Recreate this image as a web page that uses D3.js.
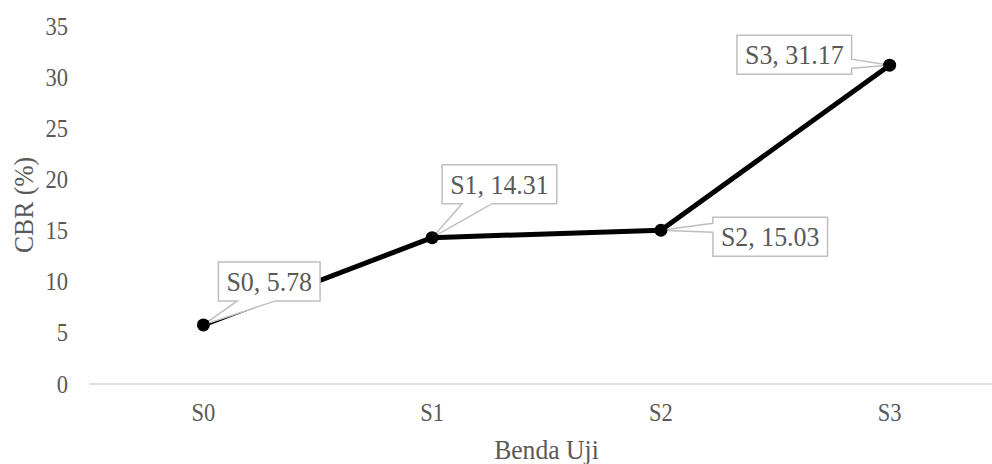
<!DOCTYPE html>
<html>
<head>
<meta charset="utf-8">
<script src="https://cdn.jsdelivr.net/npm/d3@7/dist/d3.min.js"></script>
<style>
  html, body { margin: 0; padding: 0; background: #fff; }
  svg { display: block; }
  text { font-family: "Liberation Serif", "Times New Roman", serif; fill: #595959; }
</style>
</head>
<body>
<svg id="chart" width="992" height="464"></svg>
<script>
// CBR test results per specimen
const categories = ["S0", "S1", "S2", "S3"];
const cbrValues = [5.78, 14.31, 15.03, 31.17];
const yTicks = [0, 5, 10, 15, 20, 25, 30, 35];
const xTitle = "Benda Uji";
const yTitle = "CBR (%)";

// Callout placement for each data label: box offset from the point and
// the side of the box the pointer leaves from.
const calloutLayout = [
  { dx: 15,  dy: -63, side: "bottom", wedge: [19, 57] },
  { dx: 10,  dy: -73, side: "bottom", wedge: [20, 50] },
  { dx: 52,  dy: -13, side: "left",   wedge: [6, 15] },
  { dx: -38, dy: -30, side: "right",  wedge: [24, 33] }
];

const svg = d3.select("#chart");
const W = 992, H = 464;
const margin = { left: 89, right: -12, top: 26, bottom: 80 };
const plotW = W - margin.left - margin.right;
const plotH = H - margin.top - margin.bottom;

const x = d3.scaleBand().domain(categories).range([margin.left, margin.left + plotW]);
const y = d3.scaleLinear().domain([0, 35]).range([margin.top + plotH, margin.top]);
const cx = c => x(c) + x.bandwidth() / 2;

// Narrow the glyphs horizontally around each text's own anchor point
function squeeze(sel, k) {
  sel.each(function () {
    const t = d3.select(this);
    const x0 = +t.attr("x") || 0;
    t.attr("transform", `translate(${x0},0) scale(${k},1) translate(${-x0},0)`);
  });
}

// Baseline axis line
svg.append("line")
  .attr("x1", margin.left).attr("x2", margin.left + plotW)
  .attr("y1", y(0)).attr("y2", y(0))
  .attr("stroke", "#d9d9d9").attr("stroke-width", 1.5);

// Y axis tick labels
const yAxis = d3.axisLeft(y).tickValues(yTicks).tickSize(0).tickPadding(0);
const gy = svg.append("g").attr("transform", `translate(${margin.left - 21},0)`).call(yAxis);
gy.select(".domain").remove();
gy.selectAll("text").style("font-size", "25px").attr("fill", "#595959")
  .style("font-family", "'Liberation Serif', serif").call(squeeze, 0.9);

// X axis tick labels
const xAxis = d3.axisBottom(x).tickSize(0).tickPadding(0);
const gx = svg.append("g").attr("transform", `translate(0,${y(0) + 19})`).call(xAxis);
gx.select(".domain").remove();
gx.selectAll("text").style("font-size", "25px").attr("fill", "#595959")
  .style("font-family", "'Liberation Serif', serif").call(squeeze, 0.9);

// Axis titles
svg.append("text")
  .attr("x", margin.left + plotW / 2).attr("y", 459)
  .attr("text-anchor", "middle").style("font-size", "27px")
  .text(xTitle).call(squeeze, 0.95);
svg.append("text")
  .attr("transform", `translate(33,${margin.top + plotH / 2}) rotate(-90) scale(0.95,1)`)
  .attr("text-anchor", "middle").style("font-size", "27px")
  .text(yTitle);

// Series line
const pts = categories.map((c, i) => ({ c, v: cbrValues[i], i }));
const line = d3.line().x(d => cx(d.c)).y(d => y(d.v));
svg.append("path").datum(pts)
  .attr("d", line)
  .attr("fill", "none").attr("stroke", "#000").attr("stroke-width", 5)
  .attr("stroke-linejoin", "round");

// Callout data labels
const labelSize = 27;
const padX = 8, boxH = 39;
const labels = svg.append("g");
pts.forEach(d => {
  const px = cx(d.c), py = y(d.v);
  const L = calloutLayout[d.i];
  const txt = `${d.c}, ${d.v.toFixed(2)}`;
  const t = labels.append("text")
    .style("font-size", labelSize + "px")
    .attr("text-anchor", "middle")
    .text(txt);
  const tw = t.node().getComputedTextLength() * 0.96;
  const bw = tw + padX * 2;
  const by = py + L.dy;
  const bx = L.side === "right" ? px + L.dx - bw : px + L.dx;
  const [a, b] = L.wedge;
  let pathD;
  if (L.side === "bottom") {
    pathD = `M${bx},${by} H${bx + bw} V${by + boxH} H${bx + b} L${px},${py} L${bx + a},${by + boxH} H${bx} Z`;
  } else if (L.side === "left") {
    pathD = `M${bx},${by} H${bx + bw} V${by + boxH} H${bx} V${by + b} L${px},${py} L${bx},${by + a} Z`;
  } else {
    pathD = `M${bx},${by} H${bx + bw} V${by + a} L${px},${py} L${bx + bw},${by + b} V${by + boxH} H${bx} Z`;
  }
  labels.insert("path", "text")
    .attr("d", pathD)
    .attr("fill", "#fff").attr("stroke", "#bfbfbf").attr("stroke-width", 1.5);
  t.attr("x", bx + bw / 2).attr("y", by + boxH / 2 + 9.5).call(squeeze, 0.96);
});

// Markers on top
svg.append("g").selectAll("circle").data(pts).join("circle")
  .attr("cx", d => cx(d.c)).attr("cy", d => y(d.v))
  .attr("r", 6.5).attr("fill", "#000");
</script>
</body>
</html>
